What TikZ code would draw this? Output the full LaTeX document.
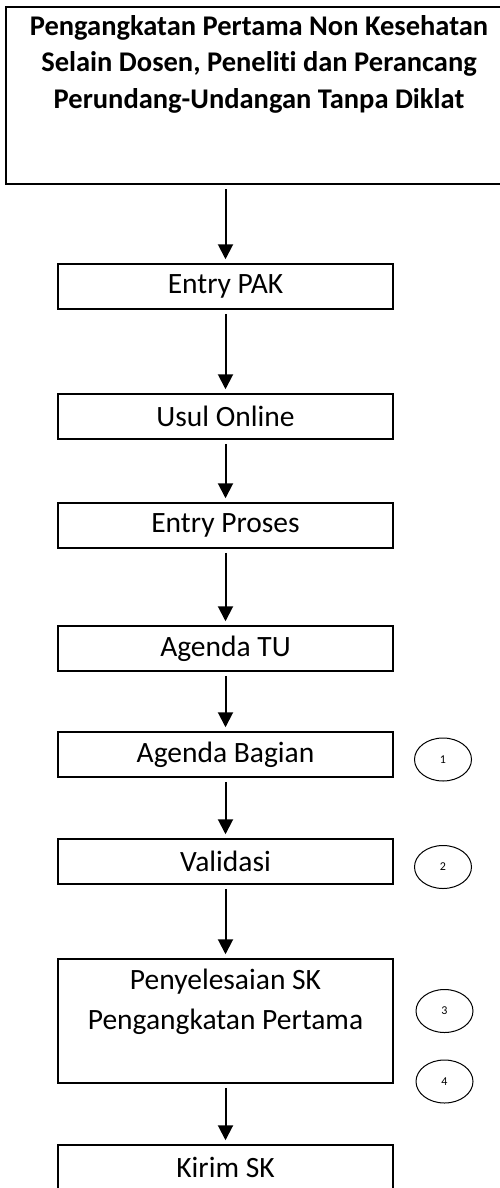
\documentclass[tikz,border=0pt]{standalone}
\usepackage{fontspec}
\setmainfont{Carlito}[Ligatures=NoCommon]
\usetikzlibrary{shapes.geometric,arrows.meta}

\begin{document}
\begin{tikzpicture}[x=1pt,y=-1pt]
   \tikzstyle{box}=[draw, line width=1.5pt, minimum width=335pt, minimum height=45pt, inner sep=0pt, font=\fontsize{29.5}{35}\selectfont]
   \tikzstyle{numbox}=[draw, ellipse, line width=1pt, minimum width=57pt, minimum height=43pt, inner sep=0pt, font=\fontsize{12}{14}\selectfont]
   \tikzstyle{flow}=[line width=2pt, -{Triangle[width=15pt,length=15pt]}, shorten <=4pt, shorten >=4pt]

\useasboundingbox (0,0) rectangle (500,1188);

% title block
\node[draw, line width=2pt, minimum width=502pt, minimum height=177pt, anchor=north west] (title) at (5,6) {};
\node[align=center, font=\fontsize{28.5}{36.5}\selectfont\bfseries] (titletext) at (259,64) {Pengangkatan Pertama Non Kesehatan\\Selain Dosen, Peneliti dan Perancang\\Perundang-Undangan Tanpa Diklat};

% steps
\node[box] (pak) at (225.5,286.5) {Entry PAK};
\node[box] (usul) at (225.5,416.5) {Usul Online};
\node[box] (proses) at (225.5,525.5) {Entry Proses};
\node[box] (tu) at (225.5,648.5) {Agenda TU};
\node[box] (bagian) at (225.5,754.5) {Agenda Bagian};
\node[box] (validasi) at (225.5,861.5) {Validasi};
\node[box, minimum height=124pt] (selesai) at (225.5,1021) {};
\node[align=center, font=\fontsize{29.5}{40}\selectfont] (selesaitext) at (225.5,1002) {Penyelesaian SK\\Pengangkatan Pertama};
\node[box] (kirim) at (225.5,1167.5) {Kirim SK};

% numbered circles
\node[numbox] (n1) at (443,759.5) {1};
\node[numbox] (n2) at (443,867) {2};
\node[numbox] (n3) at (444.5,1011) {3};
\node[numbox] (n4) at (444.5,1081.5) {4};

% arrows
\draw[flow] (title.south -| pak.north) -- (pak.north);
\draw[flow] (pak) -- (usul);
\draw[flow] (usul) -- (proses);
\draw[flow] (proses) -- (tu);
\draw[flow] (tu) -- (bagian);
\draw[flow] (bagian) -- (validasi);
\draw[flow] (validasi) -- (selesai);
\draw[flow] (selesai) -- (kirim);

\end{tikzpicture}
\end{document}
